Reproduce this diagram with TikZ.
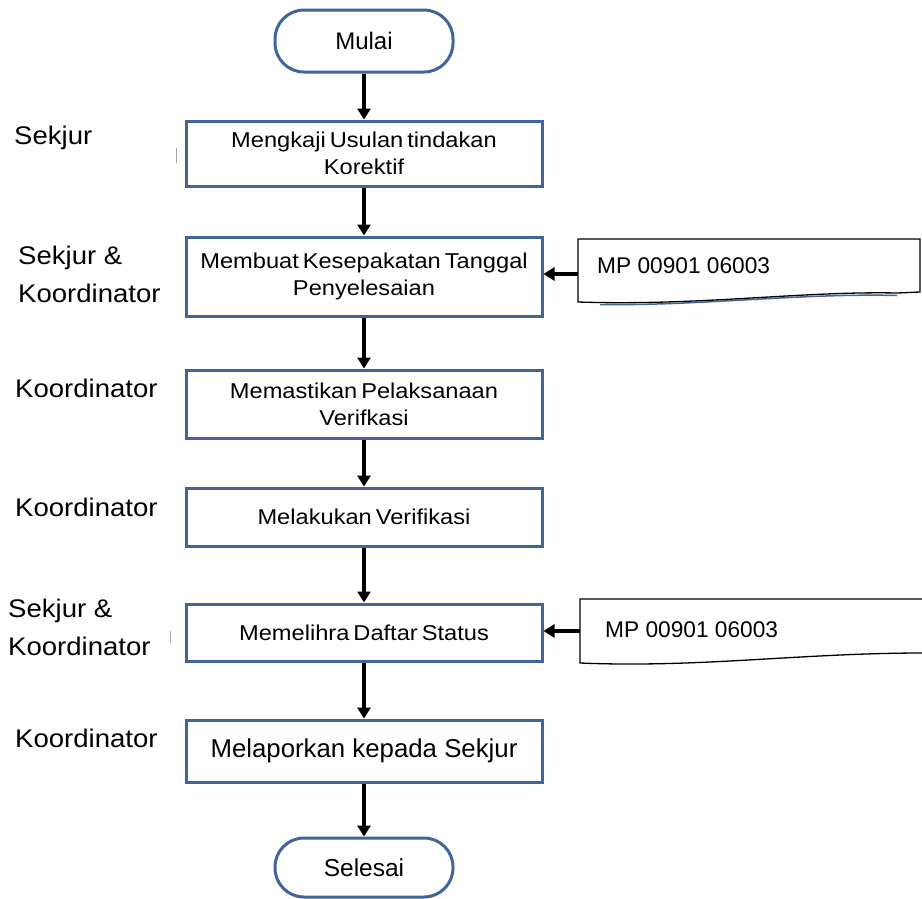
\documentclass[tikz,border=0pt]{standalone}
\usepackage{fontspec}
\setmainfont{Liberation Sans}
\newfontfamily\widefont{Liberation Sans}[FakeStretch=1.1,WordSpace=0.6]
\newfontfamily\labfont{Liberation Sans}[FakeStretch=1.08]
\usetikzlibrary{arrows.meta}
\definecolor{frameblue}{HTML}{41649A}
\tikzset{
  procbox/.style={draw=frameblue, line width=3pt, minimum width=356pt, align=center, inner sep=0pt,
    font=\widefont\fontsize{21.5}{27}\selectfont},
  termbox/.style={draw=frameblue, line width=3pt, minimum width=178pt, rounded corners=29pt,
    font=\fontsize{24}{26}\selectfont, inner sep=0pt},
  flow/.style={line width=3.2pt, -{Triangle[width=13pt,length=11pt]}},
  lab/.style={anchor=west, align=left, inner sep=0pt, font=\labfont\fontsize{25.5}{38}\selectfont},
  docshape/.style={draw=black, line width=1.3pt, fill=white},
  doctext/.style={anchor=west, inner sep=0pt, font=\fontsize{22.7}{24}\selectfont},
  tick/.style={draw=gray!70, line width=1pt}
}
\begin{document}
\begin{tikzpicture}[x=1pt,y=-1pt]
\useasboundingbox (0,0) rectangle (922,898);

% terminals and process boxes
\node[termbox, minimum height=62pt] (start) at (364,41) {Mulai};
\node[procbox, minimum height=65pt] (b1) at (364,153.5) {Mengkaji Usulan tindakan\\Korektif};
\node[procbox, minimum height=79pt] (b2) at (364,276.5) {Membuat Kesepakatan Tanggal\\Penyelesaian};
\node[procbox, minimum height=68pt] (b3) at (364,404) {Memastikan Pelaksanaan\\Verifkasi};
\node[procbox, minimum height=58pt] (b4) at (364,517) {Melakukan Verifikasi};
\node[procbox, minimum height=57pt] (b5) at (364,632.5) {Memelihra Daftar Status};
\node[procbox, minimum height=62pt, font=\fontsize{25.8}{27}\selectfont] (b6) at (364,751) {Melaporkan kepada Sekjur};
\node[termbox, minimum height=59pt, font=\fontsize{24.5}{26}\selectfont] (end) at (364,867.5) {Selesai};

% flow arrows
\draw[flow] (start) -- (b1);
\draw[flow] (b1) -- (b2);
\draw[flow] (b2) -- (b3);
\draw[flow] (b3) -- (b4);
\draw[flow] (b4) -- (b5);
\draw[flow] (b5) -- (b6);
\draw[flow] (b6) -- (end);

% document shapes
\draw[frameblue, line width=1.5pt] (600,304.5) .. controls (700,306) and (800,293) .. (897,295.5);
\path[docshape] (578,239) -- (920,239) -- (920,292) -- (897,293)
  .. controls (800,291) and (700,306) .. (578,302) -- cycle;
\node[doctext] (d1t) at (597,266) {MP 00901 06003};
\coordinate (d1w) at (578,274);

\path[docshape] (580,599) -- (923,599) -- (923,653)
  .. controls (800,653) and (700,668) .. (580,663) -- cycle;
\node[doctext] (d2t) at (605,630) {MP 00901 06003};
\coordinate (d2w) at (580,631);

\draw[flow] (d1w) -- (d1w -| b2.east);
\draw[flow] (d2w) -- (d2w -| b5.east);

% left labels
\node[lab] (l1) at (14,138) {Sekjur};
\node[lab] (l2) at (18,274) {Sekjur \&\\Koordinator};
\node[lab] (l3) at (15,388) {Koordinator};
\node[lab] (l4) at (15,507) {Koordinator};
\node[lab] (l5) at (8,627) {Sekjur \&\\Koordinator};
\node[lab] (l6) at (15,738) {Koordinator};

% small stray marks
\draw[tick] (176,148) -- (176,163);
\draw[tick] (170,631) -- (170,643);
\end{tikzpicture}
\end{document}
